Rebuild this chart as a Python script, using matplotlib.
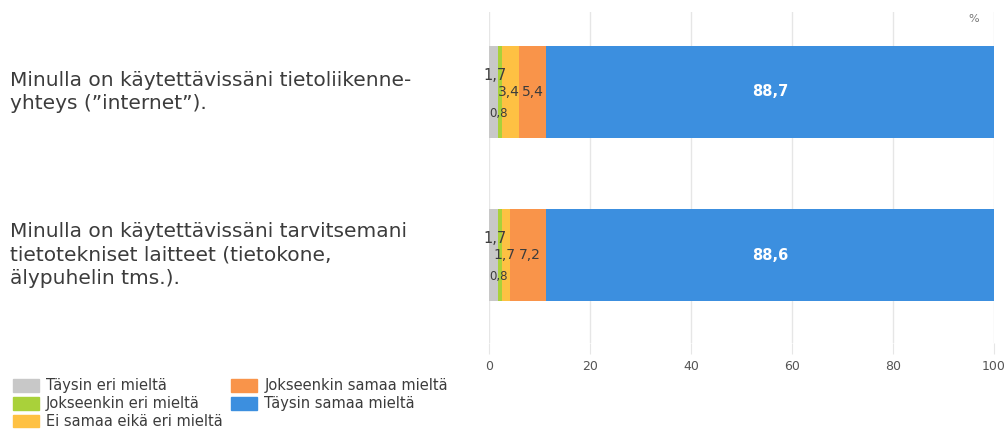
import matplotlib.pyplot as plt
from matplotlib.patches import Patch

kysymykset = ['Minulla on käytettävissäni tietoliikenne-\nyhteys (”internet”).',
              'Minulla on käytettävissäni tarvitsemani\ntietotekniset laitteet (tietokone,\nälypuhelin tms.).']
vastaukset = ['Täysin eri mieltä', 'Jokseenkin eri mieltä', 'Ei samaa eikä eri mieltä',
              'Jokseenkin samaa mieltä', 'Täysin samaa mieltä']
varit = ['#c8c8c8', '#a9d13a', '#fec143', '#f9944a', '#3c8fdf']

taysin_eri = [1.7, 1.7]
jokseenkin_eri = [0.8, 0.8]
ei_samaa_eika_eri = [3.4, 1.7]
jokseenkin_samaa = [5.4, 7.2]
taysin_samaa = [88.7, 88.6]

sarjat = [taysin_eri, jokseenkin_eri, ei_samaa_eika_eri, jokseenkin_samaa, taysin_samaa]

plt.rcParams['font.family'] = ['DejaVu Sans']
teksti = '#3c3c3c'

fig = plt.figure(figsize=(10.06, 4.29), dpi=100)
ax = fig.add_axes([0.486, 0.2, 0.502, 0.772])

y = [0, 1]
vasen = [0, 0]
for i, sarja in enumerate(sarjat):
    ax.barh(y, sarja, left=vasen, height=0.56, color=varit[i], zorder=2)
    for j in range(len(y)):
        keski = vasen[j] + sarja[j] / 2
        arvo = str(sarja[j]).replace('.', ',')
        if i == 0:
            ax.text(keski + 0.35, y[j] - 0.1, arvo, ha='center', va='center', fontsize=10.5, color=teksti, zorder=3)
        elif i == 1:
            ax.text(keski - 0.3, y[j] + 0.13, arvo, ha='center', va='center', fontsize=8.5, color=teksti, zorder=3)
        elif i == 4:
            ax.text(keski, y[j], arvo, ha='center', va='center', fontsize=10.5, color='white',
                    fontweight='bold', zorder=3)
        elif i == 2:
            ax.text(keski - 0.2, y[j], arvo, ha='center', va='center', fontsize=10, color=teksti, zorder=3)
        else:
            ax.text(keski + 0.2, y[j], arvo, ha='center', va='center', fontsize=10, color=teksti, zorder=3)
    vasen = [vasen[j] + sarja[j] for j in range(len(y))]

ax.set_xlim(0, 100)
ax.set_ylim(1.54, -0.49)
ax.set_xticks([0, 20, 40, 60, 80, 100])
ax.set_yticks([])
ax.grid(axis='x', color='#e6e6e6', linewidth=1, zorder=0)
for s in ax.spines.values():
    s.set_visible(False)
ax.tick_params(axis='x', length=8, color='#e6e6e6', labelsize=9, labelcolor='#555555', pad=4)

ax.text(96, -0.45, '%', ha='center', va='center', fontsize=8, color='#777777')

for j, k in enumerate(kysymykset):
    yy = ax.transData.transform((0, y[j]))[1]
    fig.text(10 / 1006, yy / 429, k, ha='left', va='center', fontsize=14.5, color=teksti,
             linespacing=1.3)

kahvat = [Patch(color=c) for c in varit]
fig.legend(kahvat, vastaukset, ncol=2,
           loc='upper left', bbox_to_anchor=(0.013, 0.118), frameon=False, fontsize=10.5,
           handlelength=1.75, handleheight=0.95, handletextpad=0.5, columnspacing=0.6,
           labelspacing=0.2, borderaxespad=0, borderpad=0, labelcolor=teksti)

fig.savefig('out.png', dpi=100)
